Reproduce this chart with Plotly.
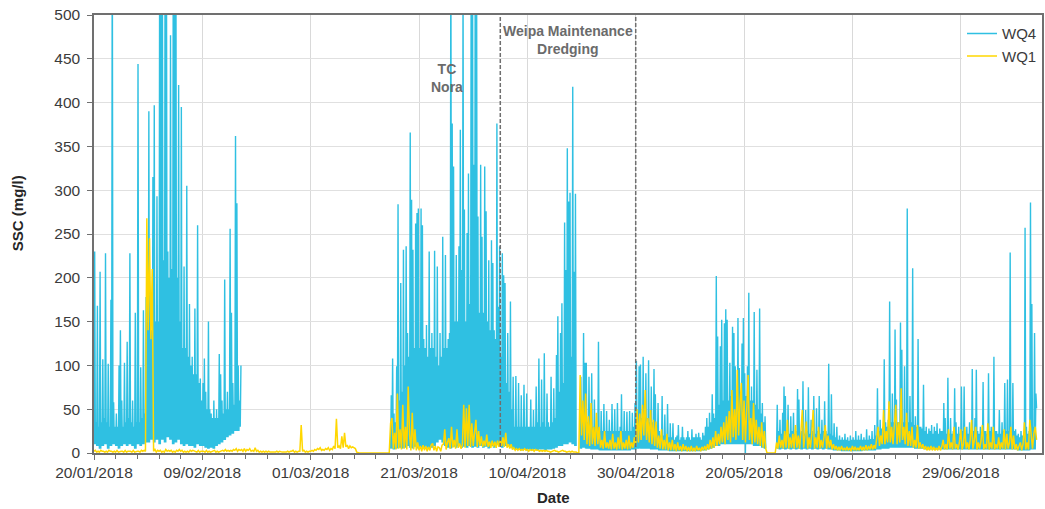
import pandas as pd
import plotly.graph_objects as go

# Suspended sediment concentration (mg/l).
# WQ4: 3-hourly values per logger deployment; gaps between deployments stay empty.
wq4_starts = ["2018-01-20 00:00", "2018-03-15 18:00", "2018-04-19 18:00", "2018-05-26 00:00"]

wq4_jan_feb = [
    10, 230, 10, 35, 8, 168, 8, 30,
    5, 207, 5, 35, 8, 107, 8, 40,
    10, 228, 10, 35, 5, 102, 5, 30,
    8, 175, 8, 620, 10, 58, 10, 30,
    8, 45, 8, 30, 5, 100, 5, 140,
    8, 60, 8, 30, 10, 103, 10, 35,
    8, 127, 8, 40, 10, 228, 10, 35,
    8, 60, 8, 30, 5, 160, 5, 35,
    10, 444, 10, 35, 8, 98, 8, 40,
    10, 163, 10, 45, 12, 178, 12, 190,
    12, 390, 12, 150, 15, 140, 15, 315,
    12, 397, 12, 150, 15, 293, 15, 150,
    10, 600, 10, 560, 15, 580, 15, 220,
    12, 610, 12, 590, 18, 230, 18, 200,
    15, 477, 15, 210, 10, 550, 10, 600,
    12, 560, 12, 200, 15, 420, 15, 150,
    10, 395, 10, 120, 8, 213, 8, 120,
    10, 305, 10, 110, 8, 170, 8, 100,
    8, 110, 8, 90, 6, 165, 6, 90,
    10, 260, 10, 80, 8, 85, 8, 60,
    8, 80, 8, 108, 6, 70, 6, 50,
    5, 150, 5, 50, 6, 45, 6, 40,
    5, 60, 5, 40, 8, 50, 8, 40,
    10, 113, 10, 90, 12, 60, 12, 45,
    15, 198, 15, 50, 18, 70, 18, 50,
    20, 256, 20, 160, 22, 80, 22, 55,
    25, 362, 25, 285, 25, 100, 25, 60,
    30, 100,
]

wq4_mar_apr = [
    5, 66, 5, 108, 4, 45, 4, 35,
    5, 99, 5, 284, 6, 60, 6, 194,
    5, 70, 5, 232, 6, 100, 6, 236,
    8, 137, 8, 110, 6, 366, 6, 289,
    5, 232, 5, 120, 7, 262, 7, 274,
    5, 279, 5, 120, 6, 279, 6, 260,
    5, 130, 5, 120, 6, 146, 6, 110,
    5, 230, 5, 120, 6, 137, 6, 120,
    8, 231, 8, 110, 12, 213, 12, 100,
    15, 137, 15, 110, 12, 247, 12, 120,
    8, 226, 8, 120, 6, 130, 6, 137,
    5, 600, 5, 376, 7, 327, 7, 150,
    6, 226, 6, 150, 8, 236, 8, 369,
    6, 209, 6, 550, 7, 278, 7, 150,
    6, 251, 6, 319, 8, 170, 8, 560,
    6, 600, 6, 329, 7, 580, 7, 570,
    6, 270, 6, 160, 8, 329, 8, 247,
    6, 160, 6, 327, 7, 276, 7, 150,
    5, 220, 5, 140, 8, 243, 8, 217,
    6, 140, 6, 130, 10, 376, 10, 167,
    8, 236, 8, 110, 6, 228, 6, 203,
    8, 194, 8, 80, 8, 137, 8, 70,
    6, 173, 6, 50, 5, 87, 5, 30,
    4, 88, 4, 30, 4, 80, 4, 30,
    3, 66, 3, 30, 4, 78, 4, 30,
    3, 68, 3, 30, 4, 30, 4, 61,
    3, 30, 3, 49, 4, 30, 4, 76,
    3, 35, 3, 108, 4, 30, 4, 84,
    4, 35, 4, 114, 3, 30, 3, 68,
    4, 35, 4, 30, 4, 87, 4, 35,
    5, 74, 5, 40, 6, 112, 6, 156,
    8, 70, 8, 137, 8, 171, 8, 80,
    10, 263, 10, 209, 10, 348, 10, 287,
    12, 297, 12, 110, 10, 418, 10, 207,
    8, 296, 8,
]

wq4_apr_may = [
    5, 87, 5, 40, 6, 137, 6, 103,
    5, 103, 5, 35, 5, 87, 5, 35,
    4, 91, 4, 30, 4, 61, 4, 30,
    4, 30, 4, 127, 3, 25, 3, 48,
    3, 25, 3, 56, 3, 25, 3, 48,
    3, 25, 3, 38, 3, 25, 3, 56,
    3, 25, 3, 50, 3, 25, 3, 57,
    3, 25, 3, 30, 3, 67, 3, 25,
    3, 48, 3, 25, 3, 47, 3, 25,
    3, 48, 3, 25, 4, 46, 4, 30,
    4, 57, 4, 105, 5, 40, 5, 99,
    5, 101, 5, 40, 5, 110, 5, 40,
    5, 91, 5, 40, 5, 106, 5, 35,
    4, 76, 4, 35, 4, 96, 4, 67,
    4, 30, 4, 57, 3, 25, 3, 20,
    3, 65, 3, 20, 3, 44, 3, 20,
    3, 56, 3, 18, 2, 34, 2, 18,
    2, 34, 2, 15, 2, 18, 2, 20,
    2, 32, 2, 15, 2, 18, 2, 30,
    2, 18, 2, 15, 2, 18, 2, 25,
    2, 18, 2, 15, 2, 27, 2, 18,
    2, 18, 2, 22, 2, 18, 2, 23,
    2, 18, 2, 15, 3, 23, 3, 20,
    3, 30, 3, 40, 4, 30, 4, 46,
    5, 35, 5, 67, 6, 45, 6, 40,
    8, 202, 8, 133, 8, 55, 8, 122,
    10, 152, 10, 60, 10, 148, 10, 164,
    10, 152, 10, 60, 10, 103, 10, 65,
    10, 144, 10, 137, 10, 99, 10, 65,
    10, 154, 10, 97, 10, 65, 10, 125,
    10, 154, 10, 91, 0, 65, 10, 99,
    10, 183, 10, 60, 10, 76, 10, 60,
    8, 161, 8, 55, 8, 95, 8, 50,
    8, 165, 8, 45, 6, 57, 6, 35,
    5, 42, 5,
]

wq4_may_jul = [
    5, 55, 5, 25, 4, 38, 4, 22,
    5, 46, 5, 76, 4, 65, 4, 22,
    5, 55, 5, 22, 4, 42, 4, 25,
    5, 46, 5, 22, 4, 25, 4, 73,
    5, 61, 5, 22, 4, 25, 4, 82,
    5, 22, 5, 49, 4, 25, 4, 75,
    5, 22, 5, 38, 4, 25, 4, 65,
    5, 22, 5, 51, 4, 25, 4, 65,
    5, 22, 5, 38, 4, 25, 4, 59,
    5, 25, 5, 22, 4, 102, 4, 22,
    4, 67, 4, 20, 3, 34, 3, 18,
    3, 30, 3, 15, 3, 20, 3, 15,
    2, 18, 2, 15, 2, 22, 2, 15,
    2, 18, 2, 14, 2, 20, 2, 15,
    2, 18, 2, 15, 2, 25, 2, 15,
    2, 20, 2, 15, 2, 22, 2, 15,
    3, 18, 3, 15, 3, 27, 3, 15,
    3, 20, 3, 16, 3, 25, 3, 16,
    3, 32, 3, 20, 4, 74, 4, 25,
    4, 38, 4, 28, 5, 30, 5, 107,
    5, 35, 5, 30, 5, 38, 5, 173,
    6, 35, 6, 68, 6, 35, 6, 141,
    6, 61, 6, 35, 6, 35, 6, 149,
    6, 118, 6, 35, 6, 99, 6, 35,
    6, 279, 6, 35, 6, 65, 6, 35,
    6, 211, 6, 32, 5, 42, 5, 30,
    5, 130, 5, 30, 5, 30, 5, 28,
    5, 78, 5, 25, 4, 30, 4, 22,
    4, 28, 4, 25, 4, 32, 4, 22,
    4, 30, 4, 25, 4, 34, 4, 22,
    4, 28, 4, 25, 4, 25, 4, 57,
    4, 40, 4, 22, 4, 86, 4, 22,
    4, 40, 4, 22, 4, 25, 4, 74,
    4, 35, 4, 22, 4, 30, 4, 22,
    4, 76, 4, 25, 4, 76, 4, 22,
    4, 30, 4, 22, 4, 35, 4, 22,
    4, 96, 4, 25, 4, 40, 4, 95,
    4, 25, 4, 22, 4, 30, 4, 22,
    4, 81, 4, 25, 4, 25, 4, 22,
    4, 91, 4, 25, 4, 30, 4, 22,
    4, 110, 4, 25, 4, 25, 4, 22,
    4, 49, 4, 22, 4, 35, 4, 25,
    4, 80, 4, 25, 4, 84, 4, 25,
    4, 229, 4, 25, 4, 80, 4, 25,
    4, 27, 4, 20, 3, 22, 3, 18,
    3, 25, 3, 20, 3, 22, 3, 257,
    3, 30, 3, 22, 3, 25, 3, 286,
    4, 170, 4, 30, 4, 137, 4, 68,
    51,
]

# WQ1: 6-hourly values; its blocks follow on from one another.
wq1_starts = ["2018-01-20 00:00", "2018-03-15 18:00", "2018-04-19 18:00", "2018-05-26 00:00"]

wq1_jan_mar = [
    2, 3, 1, 2, 1, 3, 2, 2, 1, 2, 1, 3, 2, 2, 1, 2,
    1, 3, 1, 2, 2, 2, 1, 3, 1, 2, 2, 2, 1, 3, 1, 2,
    2, 2, 1, 3, 2, 3, 2, 268, 140, 245, 130, 210, 2, 4, 1, 3,
    2, 3, 1, 2, 1, 4, 2, 3, 2, 3, 1, 2, 1, 3, 2, 4,
    2, 3, 1, 2, 1, 2, 1, 3, 2, 3, 2, 2, 1, 3, 1, 2,
    2, 2, 1, 3, 1, 2, 1, 2, 2, 3, 1, 2, 1, 2, 2, 3,
    2, 4, 2, 3, 2, 3, 2, 4, 3, 5, 2, 4, 3, 4, 2, 5,
    2, 4, 3, 5, 2, 3, 2, 6, 2, 3, 1, 2, 1, 2, 1, 2,
    1, 2, 1, 1, 1, 1, 1, 2, 1, 2, 1, 1, 1, 1, 1, 2,
    1, 2, 2, 3, 1, 2, 1, 2, 2, 32, 2, 3, 1, 2, 1, 2,
    2, 3, 2, 4, 3, 5, 4, 6, 3, 4, 3, 5, 4, 6, 3, 5,
    4, 8, 5, 39, 6, 8, 5, 19, 6, 23, 7, 9, 5, 8, 6, 7,
    6, 5, 1, 0, 0, 0, 0, 0, 0, 0, 0, 0, 0, 0, 0, 0,
    0, 0, 0, 0, 0, 0, 0, 0, 0, 0, 0,
]

wq1_mar_apr = [
    34, 40, 5, 23, 4, 68, 5, 27, 4, 55,
    5, 30, 4, 76, 21, 3, 46, 4, 27, 3,
    12, 3, 8, 2, 9, 3, 8, 2, 7, 3,
    9, 11, 3, 8, 2, 7, 6, 2, 9, 10,
    27, 4, 12, 17, 5, 30, 6, 15, 5, 27,
    6, 11, 5, 9, 55, 6, 51, 8, 55, 7,
    34, 8, 23, 38, 7, 25, 8, 19, 7, 14,
    8, 21, 7, 13, 6, 14, 7, 13, 6, 14,
    7, 15, 8, 18, 7, 23, 6, 10, 5, 10,
    4, 6, 3, 5, 3, 5, 3, 4, 3, 5,
    3, 4, 2, 4, 3, 4, 2, 4, 3, 3,
    2, 3, 2, 3, 2, 3, 2, 2, 1, 2,
    2, 3, 2, 2, 1, 2, 2, 3, 2, 2,
    1, 2, 2, 1, 2, 1, 1, 1, 0, 0,
]

wq1_apr_may = [
    89, 20, 60, 15, 68, 10, 42, 8, 57, 10,
    30, 8, 46, 10, 30, 6, 15, 5, 25, 6,
    12, 5, 15, 4, 22, 5, 12, 4, 18, 5,
    25, 4, 12, 5, 15, 4, 20, 5, 12, 6,
    18, 8, 50, 12, 45, 15, 55, 20, 72, 15,
    40, 12, 49, 10, 38, 8, 36, 6, 20, 5,
    27, 4, 15, 4, 22, 3, 12, 3, 15, 3,
    10, 2, 12, 3, 8, 2, 10, 3, 8, 2,
    7, 2, 8, 2, 6, 2, 8, 3, 6, 2,
    7, 3, 8, 3, 10, 4, 15, 5, 18, 6,
    25, 8, 22, 10, 30, 12, 35, 10, 42, 15,
    48, 12, 72, 18, 50, 15, 95, 20, 55, 80,
    15, 60, 12, 45, 89, 15, 40, 10, 57, 12,
    38, 10, 30, 8, 35, 6, 25, 5, 0, 0,
    0, 0, 0, 0, 0,
]

wq1_may_jul = [
    12, 5, 20, 6, 15, 5, 25, 6, 38, 5,
    18, 6, 22, 5, 32, 6, 20, 5, 25, 49,
    6, 20, 36, 5, 18, 6, 22, 49, 5, 18,
    6, 30, 5, 15, 6, 18, 32, 5, 20, 6,
    15, 4, 10, 4, 8, 3, 7, 3, 8, 3,
    6, 3, 7, 3, 6, 2, 8, 3, 7, 3,
    6, 3, 8, 3, 7, 3, 9, 3, 8, 4,
    10, 4, 9, 5, 15, 30, 8, 20, 10, 49,
    10, 25, 12, 59, 12, 30, 10, 40, 55, 10,
    35, 12, 74, 15, 30, 10, 46, 8, 25, 8,
    30, 6, 15, 6, 32, 5, 12, 5, 10, 4,
    8, 3, 7, 3, 8, 3, 7, 3, 6, 3,
    8, 3, 7, 15, 4, 10, 4, 27, 5, 12,
    4, 30, 5, 10, 4, 12, 27, 4, 10, 30,
    5, 12, 4, 15, 38, 5, 14, 30, 4, 12,
    5, 14, 32, 4, 10, 5, 34, 4, 12, 5,
    30, 4, 10, 5, 18, 4, 12, 5, 27, 4,
    22, 5, 12, 30, 4, 20, 4, 10, 3, 8,
    12, 3, 10, 35, 4, 12, 4, 38, 20, 5,
    22, 30, 15,
]

dredging_start = "2018-04-05"
dredging_end = "2018-04-30"


def stitch(starts, blocks, freq, break_between):
    step = pd.Timedelta(freq)
    xs, ys = [], []
    for start, vals in zip(starts, blocks):
        t = pd.date_range(start, periods=len(vals), freq=freq)
        xs += list(t)
        ys += list(vals)
        if break_between:
            xs.append(t[-1] + step)
            ys.append(None)
    return xs, ys


x4, y4 = stitch(wq4_starts, [wq4_jan_feb, wq4_mar_apr, wq4_apr_may, wq4_may_jul], "3h", True)
x1, y1 = stitch(wq1_starts, [wq1_jan_mar, wq1_mar_apr, wq1_apr_may, wq1_may_jul], "6h", False)

fig = go.Figure()
fig.add_trace(go.Scatter(x=x4, y=y4, mode="lines", name="WQ4",
                         line=dict(color="#2fc0e2", width=1.4), connectgaps=False))
fig.add_trace(go.Scatter(x=x1, y=y1, mode="lines", name="WQ1",
                         line=dict(color="#ffd700", width=1.5)))

DAY_MS = 86400000
axis_grey = "#707070"
tick_font = dict(size=15.5, color="#3b3b3b")

fig.update_xaxes(
    type="date", range=["2018-01-20", "2018-07-14"],
    tick0="2018-01-20", dtick=20 * DAY_MS, tickformat="%d/%m/%Y",
    showgrid=True, gridcolor="#d9d9d9", gridwidth=1,
    ticks="outside", ticklen=5, tickcolor=axis_grey,
    showline=True, linecolor=axis_grey, linewidth=1.5, mirror=True,
    tickfont=tick_font,
    minor=dict(tick0="2018-01-20", dtick=4 * DAY_MS, ticks="outside",
               ticklen=4, tickcolor=axis_grey, showgrid=False),
)
fig.update_yaxes(
    range=[0, 500], dtick=50, showgrid=True, gridcolor="#e0e0e0", gridwidth=1,
    zeroline=False, ticks="outside", ticklen=5, tickcolor=axis_grey,
    showline=True, linecolor=axis_grey, linewidth=1.5, mirror=True,
    tickfont=tick_font, ticklabelstandoff=4,
)

for d in (dredging_start, dredging_end):
    fig.add_shape(type="line", xref="x", yref="paper", x0=d, x1=d, y0=0, y1=1,
                  line=dict(color="#6f6f6f", width=1.5, dash="4px,2px"))

note_font = dict(size=14, color="#6b6b6b")
fig.add_annotation(x="2018-03-26 05:00", y=428, xref="x", yref="y",
                   text="<b>TC<br>Nora</b>", showarrow=False, font=note_font)
fig.add_annotation(x="2018-04-17 12:00", y=472, xref="x", yref="y",
                   text="<b>Weipa Maintenance<br>Dredging</b>", showarrow=False,
                   font=note_font)

title_font = dict(size=15, color="#262626")
fig.add_annotation(x=0.485, y=-0.1005, xref="paper", yref="paper",
                   xanchor="center", yanchor="middle",
                   text="<b>Date</b>", showarrow=False, font=title_font)
fig.add_annotation(x=-0.08, y=0.548, xref="paper", yref="paper",
                   xanchor="center", yanchor="middle",
                   text="<b>SSC (mg/l)</b>", textangle=-90, showarrow=False,
                   font=title_font)

fig.update_layout(
    width=1045, height=509,
    margin=dict(l=94, r=1, t=15, b=56),
    paper_bgcolor="white", plot_bgcolor="white",
    font=dict(family="Liberation Sans, Arial, sans-serif", size=15, color="#3b3b3b"),
    showlegend=True,
    legend=dict(x=1, y=0.995, xanchor="right", yanchor="top", bgcolor="white",
                font=dict(size=15, color="#3b3b3b"), borderwidth=0),
)

fig.write_html("out.html")
